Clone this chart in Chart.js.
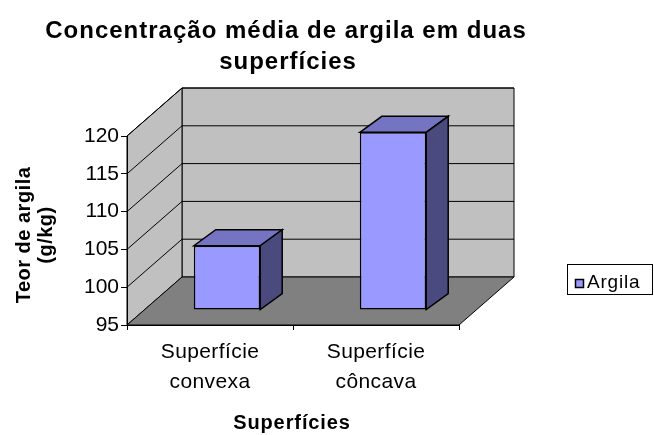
<!DOCTYPE html>
<html>
<head>
<meta charset="utf-8">
<script src="https://cdn.jsdelivr.net/npm/chart.js@4"></script>
<style>
html,body{margin:0;padding:0;background:#fff;}
#wrap{width:654px;height:435px;position:relative;}
</style>
</head>
<body>
<div id="wrap"><canvas id="c" width="654" height="435"></canvas></div>
<script>
const categories = [['Superfície', 'convexa'], ['Superfície', 'côncava']];
const seriesName = 'Argila';
const argila = [103.5, 118.5];
const yMin = 95;
const yMax = 120;
const yStep = 5;
const titleLines = ['Concentração média de argila em duas', 'superfícies'];
const yTitleLines = ['Teor de argila', '(g/kg)'];
const xTitle = 'Superfícies';

const FONT = "'Liberation Sans', Arial, sans-serif";
const DEPTH = {dx: 55, dy: -48};
const BAR_SHIFT = {dx: 17, dy: -15};
const BAR_DEPTH = {dx: 22, dy: -16};

function txt(ctx, s, x, y, font, ls, align, baseline) {
  ctx.font = font;
  ctx.letterSpacing = ls + 'px';
  ctx.textAlign = align || 'center';
  ctx.textBaseline = baseline || 'alphabetic';
  ctx.fillText(s, x, y);
}

const scene3d = {
  id: 'scene3d',
  beforeDraw(chart) {
    const ctx = chart.ctx;
    const y = chart.scales.y;
    const L = chart.chartArea.left, R = chart.chartArea.right;
    const B = y.getPixelForValue(yMin), T = y.getPixelForValue(yMax);
    const dx = DEPTH.dx, dy = DEPTH.dy;
    ctx.save();
    ctx.lineWidth = 1;
    ctx.strokeStyle = '#000';
    ctx.fillStyle = '#c0c0c0';
    ctx.beginPath();
    ctx.rect(L + dx, T + dy, R - L, B - T);
    ctx.fill(); ctx.stroke();
    ctx.beginPath();
    ctx.moveTo(L, B); ctx.lineTo(L, T); ctx.lineTo(L + dx, T + dy); ctx.lineTo(L + dx, B + dy); ctx.closePath();
    ctx.fill(); ctx.stroke();
    ctx.beginPath();
    y.ticks.forEach(t => {
      if (t.value <= yMin) return;
      const py = y.getPixelForValue(t.value);
      ctx.moveTo(L, py); ctx.lineTo(L + dx, py + dy);
      ctx.lineTo(R + dx, py + dy);
    });
    ctx.stroke();
    ctx.fillStyle = '#808080';
    ctx.beginPath();
    ctx.moveTo(L, B); ctx.lineTo(R, B); ctx.lineTo(R + dx, B + dy); ctx.lineTo(L + dx, B + dy); ctx.closePath();
    ctx.fill(); ctx.stroke();
    ctx.restore();
  },
  beforeDatasetsDraw(chart) {
    chart.ctx.save();
    chart.ctx.translate(BAR_SHIFT.dx, BAR_SHIFT.dy);
  },
  afterDatasetsDraw(chart) {
    const ctx = chart.ctx;
    const meta = chart.getDatasetMeta(0);
    ctx.lineWidth = 1.5;
    ctx.strokeStyle = '#000';
    meta.data.forEach(bar => {
      const p = bar.getProps(['x', 'y', 'base', 'width'], true);
      const l = p.x - p.width / 2, r = p.x + p.width / 2, t = p.y, b = p.base;
      const dx = BAR_DEPTH.dx, dy = BAR_DEPTH.dy;
      ctx.fillStyle = '#7474c2';
      ctx.beginPath();
      ctx.moveTo(l, t); ctx.lineTo(l + dx, t + dy); ctx.lineTo(r + dx, t + dy); ctx.lineTo(r, t); ctx.closePath();
      ctx.fill(); ctx.stroke();
      ctx.fillStyle = '#4a4a7e';
      ctx.beginPath();
      ctx.moveTo(r, t); ctx.lineTo(r + dx, t + dy); ctx.lineTo(r + dx, b + dy); ctx.lineTo(r, b); ctx.closePath();
      ctx.fill(); ctx.stroke();
    });
    ctx.restore();
  },
  afterDraw(chart) {
    const ctx = chart.ctx;
    const xs = chart.scales.x, ys = chart.scales.y;
    ctx.save();
    ctx.fillStyle = '#000';
    // title
    txt(ctx, titleLines[0], 286, 38, 'bold 24px ' + FONT, 1);
    txt(ctx, titleLines[1], 288, 69, 'bold 24px ' + FONT, 1);
    // y tick labels
    ys.ticks.forEach(t => {
      txt(ctx, String(t.value), 119, ys.getPixelForValue(t.value), '21px ' + FONT, 0, 'right', 'middle');
    });
    // x tick labels
    xs.getLabels().forEach((lab, i) => {
      const px = xs.getPixelForValue(i);
      lab.forEach((line, j) => txt(ctx, line, px, 358 + j * 30, '21px ' + FONT, 0.4));
    });
    // x title
    txt(ctx, xTitle, 292, 429, 'bold 20px ' + FONT, 0.9);
    // y title
    yTitleLines.forEach((line, j) => {
      ctx.save();
      ctx.translate(30 + j * 22, 235);
      ctx.rotate(-Math.PI / 2);
      txt(ctx, line, 0, 0, 'bold 20px ' + FONT, 0.5);
      ctx.restore();
    });
    // legend
    const ds = chart.data.datasets[0];
    ctx.letterSpacing = '0px';
    ctx.lineWidth = 1;
    ctx.strokeStyle = '#000';
    ctx.strokeRect(567.5, 264.5, 85, 30);
    ctx.fillStyle = ds.backgroundColor;
    ctx.fillRect(575.5, 279.5, 8, 8);
    ctx.lineWidth = 1.5;
    ctx.strokeRect(575.5, 279.5, 8, 8);
    ctx.fillStyle = '#000';
    txt(ctx, ds.label, 587, 288, '19px ' + FONT, 0.8, 'left');
    ctx.restore();
  }
};

new Chart(document.getElementById('c'), {
  type: 'bar',
  data: {
    labels: categories,
    datasets: [{
      label: seriesName,
      data: argila,
      base: yMin,
      backgroundColor: '#9999ff',
      borderColor: '#000',
      borderWidth: 1.5,
      borderSkipped: false,
      categoryPercentage: 1,
      barPercentage: 0.4,
      clip: false
    }]
  },
  options: {
    responsive: false,
    animation: false,
    events: [],
    layout: {padding: {left: 0, right: 195, top: 136, bottom: 0}},
    plugins: {legend: {display: false}, title: {display: false}, tooltip: {enabled: false}},
    scales: {
      x: {
        offset: true,
        grid: {display: true, drawOnChartArea: false, drawTicks: true, tickLength: 5, offset: true, color: '#000'},
        border: {display: true, color: '#000'},
        ticks: {display: false},
        afterFit(s) { s.height = 110; }
      },
      y: {
        min: yMin, max: yMax,
        grid: {display: true, drawOnChartArea: false, drawTicks: true, tickLength: 6, color: '#000'},
        border: {display: true, color: '#000'},
        ticks: {display: false, stepSize: yStep},
        afterFit(s) { s.width = 127; }
      }
    }
  },
  plugins: [scene3d]
});
</script>
</body>
</html>
